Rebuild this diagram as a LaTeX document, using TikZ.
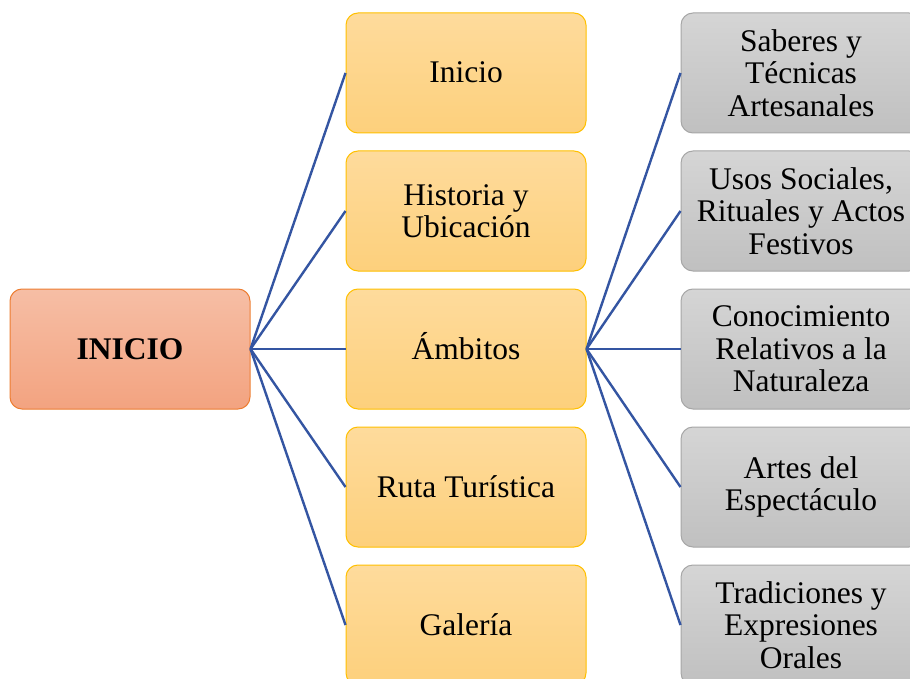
\documentclass[tikz,border=0pt]{standalone}
\usepackage{fontspec}
\setmainfont{Liberation Serif}
\definecolor{lineblue}{RGB}{52,85,162}
\definecolor{redtop}{RGB}{246,190,165}
\definecolor{redbot}{RGB}{243,163,128}
\definecolor{redline}{RGB}{237,125,49}
\definecolor{yeltop}{RGB}{254,219,156}
\definecolor{yelbot}{RGB}{253,208,124}
\definecolor{yelline}{RGB}{255,192,0}
\definecolor{grytop}{RGB}{213,213,213}
\definecolor{grybot}{RGB}{192,192,192}
\definecolor{gryline}{RGB}{166,166,166}
\tikzset{
  box/.style={rounded corners=12pt, minimum width=240pt, minimum height=120pt, inner sep=0pt, align=center, line width=1pt,
    font=\fontsize{31.5}{32.5}\selectfont},
  oneline/.style={text height=25pt, text depth=5pt},
  rootbox/.style={box, oneline, draw=redline, top color=redtop, bottom color=redbot, font=\fontsize{31.5}{32.5}\selectfont\bfseries},
  midbox/.style={box, draw=yelline, top color=yeltop, bottom color=yelbot},
  leafbox/.style={box, draw=gryline, top color=grytop, bottom color=grybot},
  conn/.style={draw=lineblue, line width=2.4pt}
}
\begin{document}
\begin{tikzpicture}[x=1pt,y=-1pt]
\clip (0,0) rectangle (910,679);
\fill[white] (0,0) rectangle (910,679);
\node[rootbox] (root) at (130,349) {INICIO};
\node[midbox, oneline] (m1) at (466,73) {Inicio};
\node[midbox] (m2) at (466,211) {Historia y\\Ubicación};
\node[midbox, oneline] (m3) at (466,349) {Ámbitos};
\node[midbox, oneline] (m4) at (466,487) {Ruta Turística};
\node[midbox, oneline] (m5) at (466,625) {Galería};
\node[leafbox] (l1) at (801,73) {Saberes y\\Técnicas\\Artesanales};
\node[leafbox] (l2) at (801,211) {Usos Sociales,\\Rituales y Actos\\Festivos};
\node[leafbox] (l3) at (801,349) {Conocimiento\\Relativos a la\\Naturaleza};
\node[leafbox] (l4) at (801,487) {Artes del\\Espectáculo};
\node[leafbox] (l5) at (801,625) {Tradiciones y\\Expresiones\\Orales};
\foreach \m in {m1,m2,m3,m4,m5} \draw[conn] (root.east) -- (\m.west);
\foreach \l in {l1,l2,l3,l4,l5} \draw[conn] (m3.east) -- (\l.west);
\end{tikzpicture}
\end{document}
